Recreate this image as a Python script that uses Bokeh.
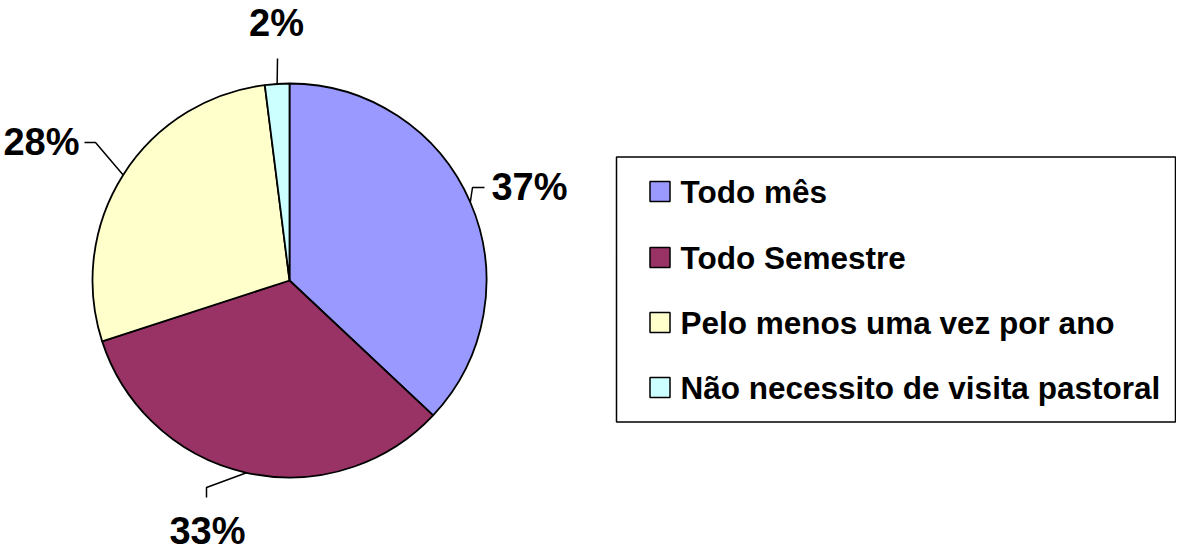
import math
from bokeh.plotting import figure
from bokeh.models import Range1d, ColumnDataSource
from bokeh.core.properties import value
from bokeh.embed import file_html
from bokeh.resources import INLINE

# ---- data ----
categories = ["Todo mês", "Todo Semestre", "Pelo menos uma vez por ano", "Não necessito de visita pastoral"]
values = [37, 33, 28, 2]
pct_labels = ["37%", "33%", "28%", "2%"]
colors = ["#9999FF", "#993366", "#FFFFCC", "#CCFFFF"]

# ---- layout (reference pixels, y from top) ----
W, H = 1176, 552
OX, OY = 6, 10
def X(sx):
    return sx - OX
def Y(sy):
    return H - (sy - OY)

CX, CY, R = 295, 290, 197
FONT = "Liberation Sans"

p = figure(width=W, height=H, output_backend="svg", toolbar_location=None,
           x_range=Range1d(0, W), y_range=Range1d(0, H), min_border=0)
p.axis.visible = False
p.grid.visible = False
p.outline_line_color = None
p.background_fill_color = "white"
p.border_fill_color = "white"

total = float(sum(values))
starts, ends, mids = [], [], []
cum = 0.0
for v in values:
    s = math.pi / 2 - 2 * math.pi * cum / total
    e = s - 2 * math.pi * v / total
    starts.append(s)
    ends.append(e)
    mids.append((s + e) / 2)
    cum += v

src = ColumnDataSource(dict(start=starts, end=ends, color=colors, cat=categories))
p.wedge(x=X(CX), y=Y(CY), radius=R, start_angle="start", end_angle="end", direction="clock",
        fill_color="color", line_color="black", line_width=1.8, source=src)

# leader lines: from arc midpoint -> elbow -> label end
elbows = [[(478, 197), (490, 197)],
          [(212, 497), (212, 507)],
          [(101, 152), (90, 152)],
          [(283, 68)]]
label_pos = [(535, 196.5), (213, 540), (47, 151.5), (282, 32.5)]

xs, ys = [], []
for m, el in zip(mids, elbows):
    ax = X(CX) + R * math.cos(m)
    ay = Y(CY) + R * math.sin(m)
    xs.append([ax] + [X(e[0]) for e in el])
    ys.append([ay] + [Y(e[1]) for e in el])
p.multi_line(xs=xs, ys=ys, line_color="black", line_width=1.5)

p.text(x=[X(lp[0]) for lp in label_pos], y=[Y(lp[1]) for lp in label_pos], text=pct_labels,
       text_font=value(FONT), text_font_size="38px", text_font_style="bold",
       text_align="center", text_baseline="middle", text_color="black")

# legend box
p.quad(left=X(622), right=W - 1, top=Y(166.5), bottom=Y(431.5), fill_color="white",
       line_color="black", line_width=1.5)
row_centers = [201, 267, 332, 397]
p.scatter(x=[X(665.5)] * len(categories), y=[Y(c) for c in row_centers], marker="square", size=20,
          fill_color=colors, line_color="black", line_width=1.5)
p.text(x=[X(686)] * len(categories), y=[Y(c) for c in row_centers], text=categories,
       text_font=value(FONT), text_font_size="31.5px", text_font_style="bold",
       text_align="left", text_baseline="middle", text_color="black")

open("out.html", "w").write(file_html(p, INLINE))
